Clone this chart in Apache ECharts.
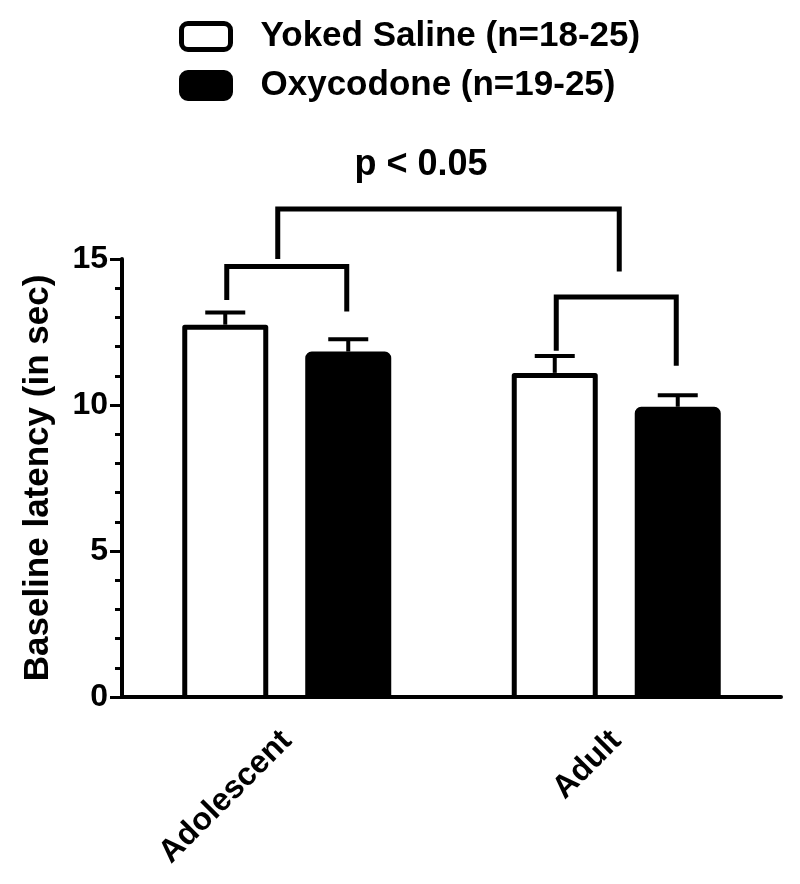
<!DOCTYPE html>
<html>
<head>
<meta charset="utf-8">
<script src="https://cdn.jsdelivr.net/npm/echarts@6/dist/echarts.min.js"></script>
<style>
  html, body { margin: 0; padding: 0; background: #fff; }
  #chart { width: 800px; height: 884px; }
</style>
</head>
<body>
<div id="chart"></div>
<script>
const categories = ['Adolescent', 'Adult']
const salineMean = [12.75, 11.1]
const salineSem = [0.42, 0.58]
const oxyMean = [11.83, 9.94]
const oxySem = [0.42, 0.39]
// within-group brackets: [category, bar y, left leg end, right leg end]
const groupBrackets = [[0, 14.74, 13.6, 13.2], [1, 13.7, 11.86, 11.34]]
// age bracket: [bar y, left leg end, right leg end]
const ageBracket = [16.71, 15.0, 14.57]

const FONT = 'Liberation Sans, Arial, sans-serif'
const BAR_W = 86
const BAR_OFFSET = 61.5

const chart = echarts.init(document.getElementById('chart'))

function errorSeries(means, sems, offset) {
  return {
    type: 'custom',
    silent: true,
    z: 3,
    encode: { x: 0, y: [1, 2] },
    data: means.map((m, i) => [i, m, m + sems[i]]),
    renderItem(params, api) {
      const base = api.coord([api.value(0), api.value(1)])
      const top = api.coord([api.value(0), api.value(2)])
      const x = base[0] + offset
      const st = { stroke: '#000', lineWidth: 4 }
      return {
        type: 'group',
        children: [
          { type: 'line', shape: { x1: x, y1: base[1], x2: x, y2: top[1] }, style: st },
          { type: 'line', shape: { x1: x - 20, y1: top[1], x2: x + 20, y2: top[1] }, style: st },
        ],
      }
    },
  }
}

// open outline (no bottom edge) for the white bars
const salineOutline = {
  type: 'custom',
  silent: true,
  z: 3,
  encode: { x: 0, y: 1 },
  data: salineMean.map((m, i) => [i, m]),
  renderItem(params, api) {
    const top = api.coord([api.value(0), api.value(1)])
    const base = api.coord([api.value(0), 0])
    const cx = top[0] - BAR_OFFSET
    const xl = cx - BAR_W / 2 + 2.5
    const xr = cx + BAR_W / 2 - 2.5
    const yt = top[1] + 2.5
    return {
      type: 'polyline',
      shape: { points: [[xl, base[1]], [xl, yt], [xr, yt], [xr, base[1]]] },
      style: { stroke: '#000', lineWidth: 5, fill: null, lineJoin: 'round' },
    }
  },
}

chart.setOption({
  animation: false,
  title: {
    text: 'p < 0.05',
    left: 416,
    top: 142,
    textAlign: 'center',
    textStyle: { fontFamily: FONT, fontWeight: 'bold', fontSize: 36, color: '#000' },
  },
  legend: {
    orient: 'vertical',
    left: 174,
    top: 14,
    itemWidth: 49,
    itemHeight: 26,
    itemGap: 14,
    icon: 'roundRect',
    data: [
      { name: 'Yoked Saline (n=18-25)', itemStyle: { color: '#fff', borderColor: '#000', borderWidth: 5 } },
      { name: 'Oxycodone (n=19-25)', itemStyle: { color: '#000', borderColor: '#000', borderWidth: 5 } },
    ],
    textStyle: {
      fontFamily: FONT, fontWeight: 'bold', fontSize: 35, lineHeight: 30,
      color: '#000', padding: [0, 0, 0, 25],
    },
  },
  grid: { left: 122, right: 19, top: 259, bottom: 187 },
  xAxis: {
    type: 'category',
    data: categories,
    z: 10,
    axisLine: { lineStyle: { color: '#000', width: 4 } },
    axisTick: { alignWithLabel: true, length: 11, lineStyle: { color: '#000', width: 3 } },
    axisLabel: {
      rotate: 45,
      margin: 39,
      color: '#000',
      fontFamily: FONT,
      fontWeight: 'bold',
      fontSize: 32,
    },
  },
  yAxis: {
    type: 'value',
    min: 0,
    max: 15,
    interval: 5,
    name: 'Baseline latency (in sec)',
    nameLocation: 'middle',
    nameGap: 66,
    nameTextStyle: { fontFamily: FONT, fontWeight: 'bold', fontSize: 35, color: '#000' },
    axisLine: { show: true, lineStyle: { color: '#000', width: 4 } },
    axisTick: { show: true, length: 12, lineStyle: { color: '#000', width: 3 } },
    minorTick: { show: true, splitNumber: 5, length: 7, lineStyle: { color: '#000', width: 3 } },
    splitLine: { show: false },
    axisLabel: {
      margin: 14,
      color: '#000',
      fontFamily: FONT,
      fontWeight: 'bold',
      fontSize: 32,
    },
  },
  series: [
    {
      name: 'Yoked Saline (n=18-25)',
      type: 'bar',
      data: salineMean,
      barWidth: BAR_W,
      barGap: '43%',
      itemStyle: { color: '#fff' },
    },
    {
      name: 'Oxycodone (n=19-25)',
      type: 'bar',
      data: oxyMean,
      barWidth: BAR_W,
      itemStyle: { color: '#000', borderColor: '#000', borderWidth: 5, borderRadius: [4, 4, 0, 0] },
    },
    salineOutline,
    errorSeries(salineMean, salineSem, -BAR_OFFSET),
    errorSeries(oxyMean, oxySem, BAR_OFFSET),
    {
      type: 'custom',
      silent: true,
      clip: false,
      encode: { x: 0, y: [1, 2, 3] },
      data: groupBrackets,
      renderItem(params, api) {
        const c = api.coord([api.value(0), api.value(1)])
        const yl = api.coord([api.value(0), api.value(2)])[1]
        const yr = api.coord([api.value(0), api.value(3)])[1]
        const xl = c[0] - 60
        const xr = c[0] + 60
        return {
          type: 'polyline',
          shape: { points: [[xl, yl], [xl, c[1]], [xr, c[1]], [xr, yr]] },
          style: { stroke: '#000', lineWidth: 5, fill: null, lineJoin: 'miter' },
        }
      },
    },
    {
      type: 'custom',
      silent: true,
      clip: false,
      encode: { x: 0, y: [1, 2, 3] },
      data: [[0, ...ageBracket]],
      renderItem(params, api) {
        const l = api.coord([0, api.value(1)])
        const r = api.coord([1, api.value(1)])
        const yl = api.coord([0, api.value(2)])[1]
        const yr = api.coord([1, api.value(3)])[1]
        const xl = l[0] - 9
        const xr = r[0] + 3
        return {
          type: 'polyline',
          shape: { points: [[xl, yl], [xl, l[1]], [xr, l[1]], [xr, yr]] },
          style: { stroke: '#000', lineWidth: 5, fill: null, lineJoin: 'miter' },
        }
      },
    },
  ],
})
</script>
</body>
</html>
